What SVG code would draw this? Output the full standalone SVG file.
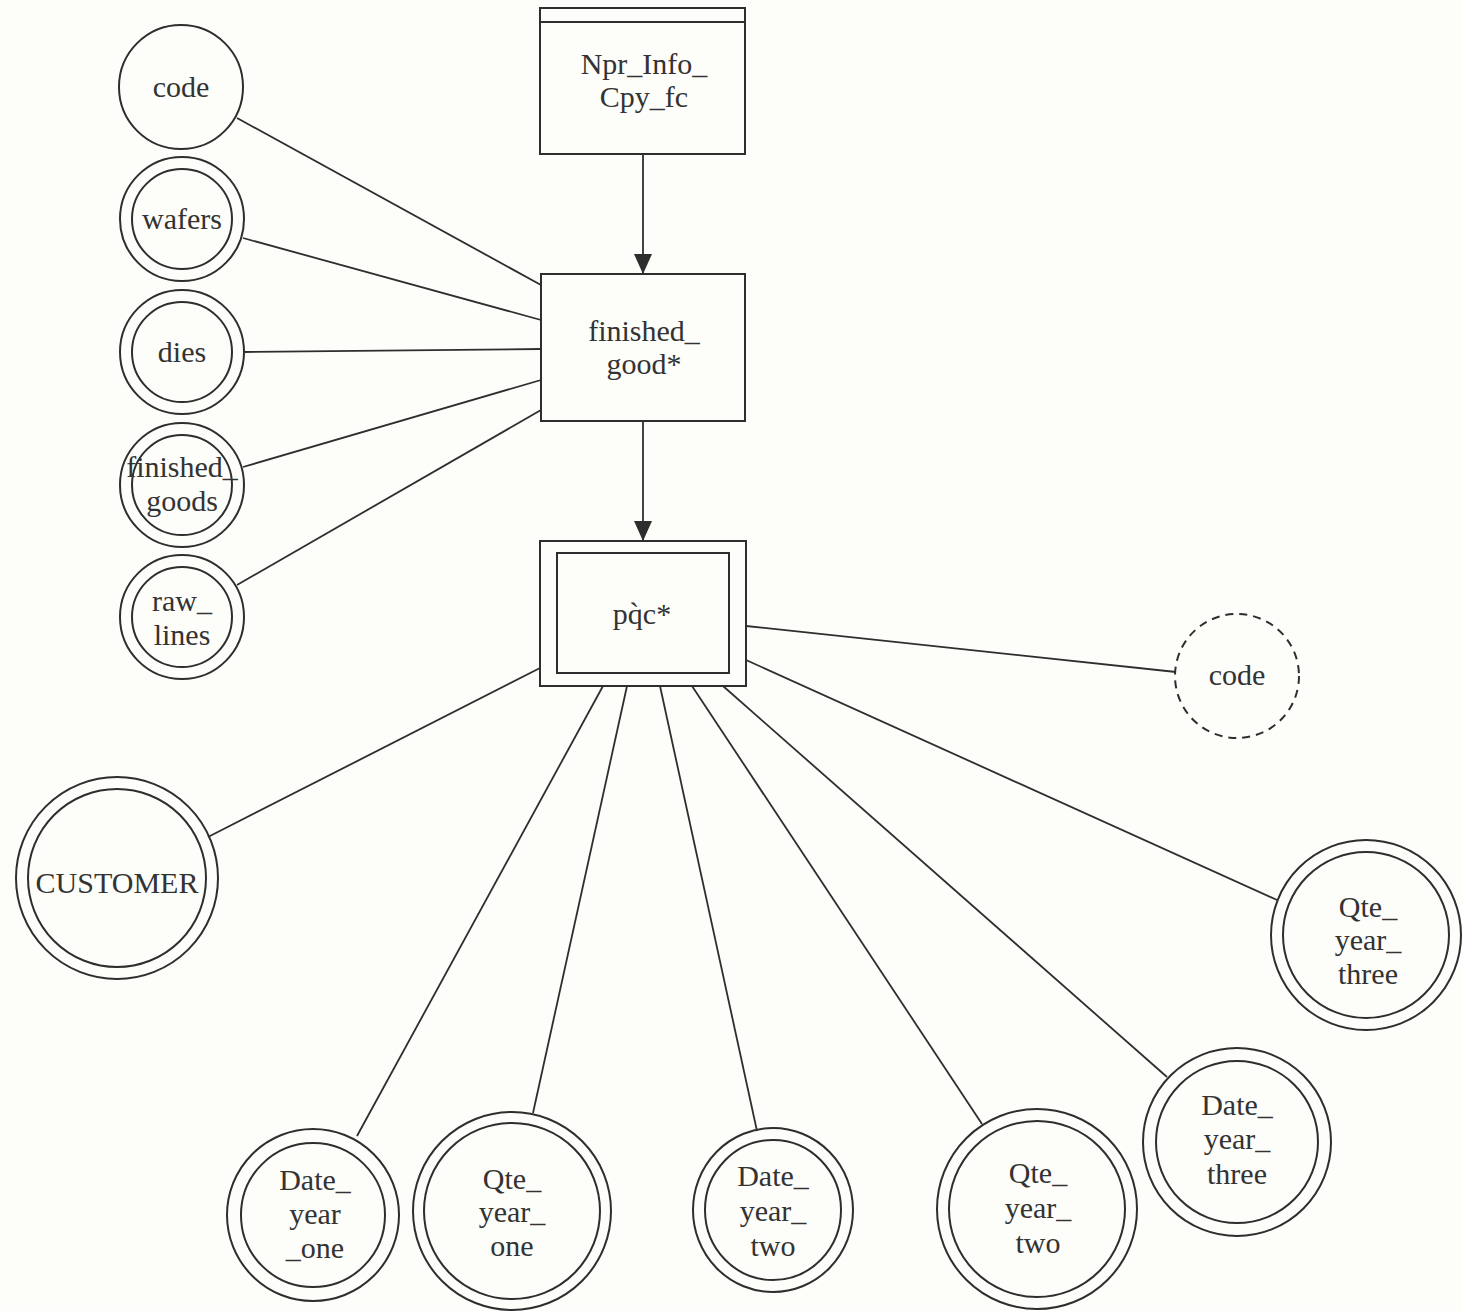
<svg xmlns="http://www.w3.org/2000/svg" width="1462" height="1311" viewBox="0 0 1462 1311">
  <style>
    .shape { fill: none; stroke: #2e2e2e; stroke-width: 2; }
    .dashed { fill: none; stroke: #2e2e2e; stroke-width: 2; stroke-dasharray: 8 6; }
    .link { fill: none; stroke: #2e2e2e; stroke-width: 1.8; }
    .lbl { font-family: "Liberation Serif", "Times New Roman", serif; font-size: 30px; fill: #333333; text-anchor: middle; }
  </style>
  <defs>
    <marker id="arrow" viewBox="0 0 20 20" refX="20" refY="10" markerWidth="20" markerHeight="20" markerUnits="userSpaceOnUse" orient="auto">
      <path d="M0,1 L20,10 L0,19 Z" fill="#2e2e2e"/>
    </marker>
  </defs>

  <rect x="0" y="0" width="1462" height="1311" fill="#fdfdf9"/>

  <!-- connectors -->
  <g id="connectors">
    <line class="link" x1="643" y1="154" x2="643" y2="274" marker-end="url(#arrow)"/>
    <line class="link" x1="643" y1="421" x2="643" y2="541" marker-end="url(#arrow)"/>

    <line class="link" x1="237" y1="118" x2="541" y2="285"/>
    <line class="link" x1="243" y1="238" x2="541" y2="320"/>
    <line class="link" x1="244" y1="352" x2="541" y2="349"/>
    <line class="link" x1="243" y1="467" x2="541" y2="380"/>
    <line class="link" x1="237" y1="585" x2="541" y2="410"/>

    <line class="link" x1="540" y1="668" x2="208" y2="837"/>
    <line class="link" x1="746" y1="626" x2="1176" y2="672"/>
    <line class="link" x1="746" y1="660" x2="1277" y2="900"/>
    <line class="link" x1="723" y1="686" x2="1167" y2="1077"/>
    <line class="link" x1="692" y1="686" x2="982" y2="1124"/>
    <line class="link" x1="660" y1="686" x2="757" y2="1131"/>
    <line class="link" x1="627" y1="686" x2="533" y2="1113"/>
    <line class="link" x1="603" y1="686" x2="357" y2="1136"/>
  </g>

  <!-- entity boxes -->
  <g id="npr_info_cpy_fc">
    <rect class="shape" x="540" y="8" width="205" height="146"/>
    <line class="shape" x1="540" y1="22" x2="745" y2="22"/>
    <text class="lbl" x="644" y="74">Npr_Info_</text>
    <text class="lbl" x="644" y="107">Cpy_fc</text>
  </g>

  <g id="finished_good">
    <rect class="shape" x="541" y="274" width="204" height="147"/>
    <text class="lbl" x="644" y="341">finished_</text>
    <text class="lbl" x="644" y="374">good*</text>
  </g>

  <g id="pqc">
    <rect class="shape" x="540" y="541" width="206" height="145"/>
    <rect class="shape" x="557" y="553" width="172" height="120"/>
    <text class="lbl" x="642" y="624">pq̀c*</text>
  </g>

  <!-- attributes of finished_good -->
  <g id="attr_code">
    <circle class="shape" cx="181" cy="87" r="62"/>
    <text class="lbl" x="181" y="97">code</text>
  </g>
  <g id="attr_wafers">
    <circle class="shape" cx="182" cy="219" r="62"/>
    <circle class="shape" cx="182" cy="219" r="50"/>
    <text class="lbl" x="182" y="229">wafers</text>
  </g>
  <g id="attr_dies">
    <circle class="shape" cx="182" cy="352" r="62"/>
    <circle class="shape" cx="182" cy="352" r="50"/>
    <text class="lbl" x="182" y="362">dies</text>
  </g>
  <g id="attr_finished_goods">
    <circle class="shape" cx="182" cy="485" r="62"/>
    <circle class="shape" cx="182" cy="485" r="50"/>
    <text class="lbl" x="182" y="477">finished_</text>
    <text class="lbl" x="182" y="511">goods</text>
  </g>
  <g id="attr_raw_lines">
    <circle class="shape" cx="182" cy="617" r="62"/>
    <circle class="shape" cx="182" cy="617" r="50"/>
    <text class="lbl" x="182" y="611">raw_</text>
    <text class="lbl" x="182" y="645">lines</text>
  </g>

  <!-- attributes of pqc -->
  <g id="attr_customer">
    <circle class="shape" cx="117" cy="878" r="101"/>
    <circle class="shape" cx="117" cy="878" r="89"/>
    <text class="lbl" x="117" y="893">CUSTOMER</text>
  </g>
  <g id="attr_pqc_code">
    <circle class="dashed" cx="1237" cy="676" r="62"/>
    <text class="lbl" x="1237" y="685">code</text>
  </g>
  <g id="attr_qte_year_three">
    <circle class="shape" cx="1366" cy="935" r="95"/>
    <circle class="shape" cx="1366" cy="935" r="83"/>
    <text class="lbl" x="1368" y="917">Qte_</text>
    <text class="lbl" x="1368" y="950">year_</text>
    <text class="lbl" x="1368" y="984">three</text>
  </g>
  <g id="attr_date_year_three">
    <circle class="shape" cx="1237" cy="1142" r="94"/>
    <circle class="shape" cx="1237" cy="1142" r="81"/>
    <text class="lbl" x="1237" y="1115">Date_</text>
    <text class="lbl" x="1237" y="1149">year_</text>
    <text class="lbl" x="1237" y="1184">three</text>
  </g>
  <g id="attr_qte_year_two">
    <circle class="shape" cx="1037" cy="1209" r="100"/>
    <circle class="shape" cx="1037" cy="1209" r="88"/>
    <text class="lbl" x="1038" y="1183">Qte_</text>
    <text class="lbl" x="1038" y="1218">year_</text>
    <text class="lbl" x="1038" y="1253">two</text>
  </g>
  <g id="attr_date_year_two">
    <ellipse class="shape" cx="773" cy="1210" rx="80" ry="82"/>
    <ellipse class="shape" cx="773" cy="1210" rx="68" ry="70"/>
    <text class="lbl" x="773" y="1186">Date_</text>
    <text class="lbl" x="773" y="1221">year_</text>
    <text class="lbl" x="773" y="1256">two</text>
  </g>
  <g id="attr_qte_year_one">
    <circle class="shape" cx="512" cy="1211" r="99"/>
    <circle class="shape" cx="512" cy="1211" r="88"/>
    <text class="lbl" x="512" y="1189">Qte_</text>
    <text class="lbl" x="512" y="1222">year_</text>
    <text class="lbl" x="512" y="1256">one</text>
  </g>
  <g id="attr_date_year_one">
    <circle class="shape" cx="313" cy="1215" r="86"/>
    <circle class="shape" cx="313" cy="1215" r="72"/>
    <text class="lbl" x="315" y="1190">Date_</text>
    <text class="lbl" x="315" y="1224">year</text>
    <text class="lbl" x="315" y="1258">_one</text>
  </g>
</svg>
